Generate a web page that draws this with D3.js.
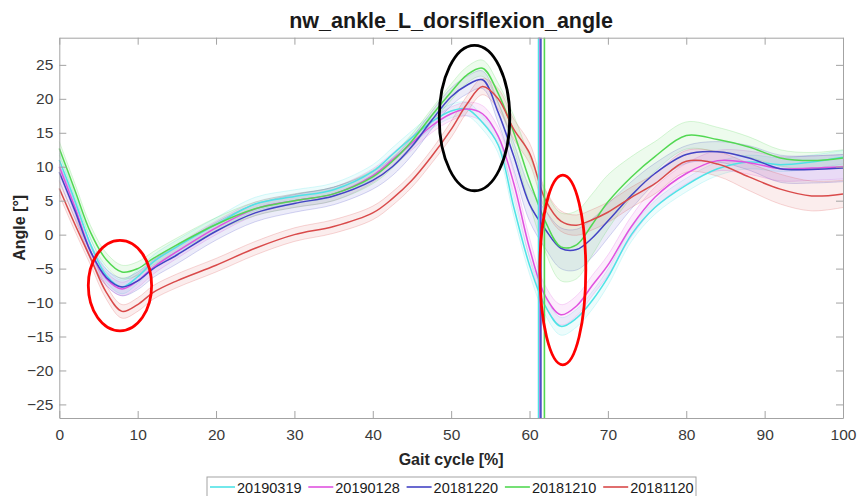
<!DOCTYPE html>
<html><head><meta charset="utf-8">
<script src="https://cdn.jsdelivr.net/npm/d3@7/dist/d3.min.js"></script>
<style>
html,body{margin:0;padding:0;background:#fff;}
svg{display:block;font-family:"Liberation Sans",Arial,Helvetica,sans-serif;}
</style></head>
<body><svg id="c" width="857" height="496"></svg>
<script>
// ---- data ----
const gaitPct = [0,2,4,6,8,10,12,15,20,25,30,35,40,42.5,45,47.5,50,52,54,56,58,60,62,64,66,68,70,73,76,80,84,88,92,96,100];
const seriesNames = ["20190319","20190128","20181220","20181210","20181120"];
const seriesColors = ["#4fe3e6","#e052e0","#4343c4","#52d852","#d94a4a"];
const mean20190319 = [11,5,-1.5,-6,-7.7,-6.2,-4,-1.8,1.5,4.5,5.6,6.6,9.3,11.8,14.3,16.6,18.2,18.5,16.5,13.2,4,-4.5,-10.5,-13.5,-12.3,-9.7,-6.3,0,4,7.3,9.7,10.7,10.3,10.7,11.4];
const mean20190128 = [10,4,-2.5,-6.5,-8,-6.8,-4.8,-2.5,1,3.8,5,6,8.7,11,13.5,16,17.8,18.5,17.8,14.5,7.5,-2,-9,-11.8,-10.5,-7.5,-4.5,1.2,5.5,9,10.9,10.6,9.7,9.8,10];
const mean20181220 = [9.2,3.5,-2.5,-6.3,-7.7,-6.8,-5,-3,0.5,3.2,4.6,5.7,8,10,13,16.8,20.3,22,22.8,18,11.5,4.5,0.8,-2,-2.2,-0.5,2,5.8,9,11.8,12.2,11.3,9.7,9.6,9.8];
const mean20181210 = [12.7,6.5,0.3,-3.7,-5.5,-5,-3.5,-1.5,1.5,3.8,5,6,8.5,10.8,13.8,17.5,21,23.5,24.5,20.8,15,8,2,-1.8,-1.5,1.5,4.8,8.5,11.5,14.6,14,12.9,11.3,10.9,11.3];
const mean20181120 = [6.8,1.5,-3.5,-8.5,-11.3,-10.3,-8.5,-6.8,-4.5,-2,0,1.2,3.2,5.3,8,11.5,15.5,19.2,21.8,20,15.5,12,5.2,2,1.4,2.2,3.3,5.5,7.5,10.8,10.4,8.5,6.7,5.7,6];
const sd20190319 = [1,1,1,1,1,1,1,1,1,1,1,1,1,1,1,1,1,1,1,1.2,1.3,1.3,1.3,1.3,1.3,1.3,1.2,1,1,1,1,1,1,1,1];
const sd20190128 = [1,1,1,1,1,1,1,1,1,1,1,1,1,1,1,1,1,1,1.2,1.3,1.5,1.5,1.5,1.5,1.5,1.5,1.5,1.5,1.5,1.5,1.5,1.7,1.8,1.8,1.8];
const sd20181220 = [1.2,1.2,1.2,1.2,1.3,1.3,1.3,1.3,1.3,1.3,1.3,1.3,1.3,1.3,1.3,1.3,1.3,1.3,1.3,1.5,2,2.5,2.8,3,3,2.8,2.5,2,1.5,1.3,1.5,1.8,2,2,2];
const sd20181210 = [1,1,1,1,1,1,1,1,1,1,1,1,1,1,1,1,1.2,1.2,1.2,1.5,2.5,3.5,4.5,5,5,4.5,4,3,2.2,2,1.8,1.5,1.2,1.2,1.2];
const sd20181120 = [1,1,1,1,1,1,1,1,1,1,1,1,1,1,1,1,1.2,1.2,1.2,1.5,1.5,1.5,1.5,1.5,1.5,1.5,1.5,1.5,1.5,1.6,1.8,2,2.2,2.2,2];
const toeOff = [61.15,61.25,61.45,61.9,61.25];
const xTicks = [0,10,20,30,40,50,60,70,80,90,100];
const yTicks = [-25,-20,-15,-10,-5,0,5,10,15,20,25];
// hand-drawn annotation ellipses, in data units: [cx, cy, rx, ry, color]
const annotations = [[7.74,-7.5,4.04,6.66,"#ff0000"],[52.98,17.16,4.5,10.7,"#000000"],[64.25,-5.2,2.93,13.97,"#ff0000"]];

const means = [mean20190319,mean20190128,mean20181220,mean20181210,mean20181120];
const sds = [sd20190319,sd20190128,sd20181220,sd20181210,sd20181120];

const svg = d3.select("#c");
const x = d3.scaleLinear().domain([0,100]).range([59.3,843]);
const y = d3.scaleLinear().domain([-27,29]).range([418,37.7]);
const axisCol = "#a3a3a3", textCol = "#3a3a3a";

const plot = svg.append("g");
const curve = d3.curveCatmullRom.alpha(0.5);

// bands
seriesNames.forEach((n,i)=>{
  const pts = gaitPct.map((g,j)=>({g, m:means[i][j], s:sds[i][j]}));
  const area = d3.area().x(d=>x(d.g)).y0(d=>y(d.m-d.s)).y1(d=>y(d.m+d.s)).curve(curve);
  plot.append("path").datum(pts).attr("d",area).attr("fill",seriesColors[i]).attr("fill-opacity",0.1);
  [-1,1].forEach(k=>{
    const ln = d3.line().x(d=>x(d.g)).y(d=>y(d.m+k*d.s)).curve(curve);
    plot.append("path").datum(pts).attr("d",ln).attr("fill","none").attr("stroke",seriesColors[i]).attr("stroke-opacity",0.22).attr("stroke-width",1);
  });
});
// mean lines
seriesNames.forEach((n,i)=>{
  const pts = gaitPct.map((g,j)=>({g, m:means[i][j]}));
  const ln = d3.line().x(d=>x(d.g)).y(d=>y(d.m)).curve(curve);
  plot.append("path").datum(pts).attr("d",ln).attr("fill","none").attr("stroke",seriesColors[i]).attr("stroke-width",1.5);
});
// toe-off vertical lines
const vOrder = [4,1,0,3,2];
vOrder.forEach(i=>{
  plot.append("line").attr("x1",x(toeOff[i])).attr("x2",x(toeOff[i])).attr("y1",y(29)).attr("y2",y(-27))
    .attr("stroke",seriesColors[i]).attr("stroke-width",1.6);
});

// axes
function styleAxis(g){
  g.selectAll("path.domain").attr("stroke",axisCol);
  g.selectAll(".tick line").attr("stroke",axisCol);
  g.selectAll(".tick text").attr("fill",textCol).attr("font-size","15.5px").attr("font-family","Liberation Sans, Arial, sans-serif");
}
svg.append("g").attr("transform",`translate(0,${y(-27)})`)
  .call(d3.axisBottom(x).tickValues(xTicks).tickSize(-7).tickSizeOuter(0).tickPadding(11)).call(styleAxis);
svg.append("g").attr("transform",`translate(0,${y(29)})`)
  .call(d3.axisTop(x).tickValues(xTicks).tickSize(-7).tickSizeOuter(0).tickFormat("")).call(styleAxis);
svg.append("g").attr("transform",`translate(${x(0)},0)`)
  .call(d3.axisLeft(y).tickValues(yTicks).tickSize(-7).tickSizeOuter(0).tickPadding(6)).call(styleAxis);
svg.append("g").attr("transform",`translate(${x(100)},0)`)
  .call(d3.axisRight(y).tickValues(yTicks).tickSize(-7).tickSizeOuter(0).tickFormat("")).call(styleAxis);

// annotations
annotations.forEach(a=>{
  svg.append("ellipse").attr("cx",x(a[0])).attr("cy",y(a[1]))
    .attr("rx",x(a[0]+a[2])-x(a[0])).attr("ry",y(a[1])-y(a[1]+a[3]))
    .attr("fill","none").attr("stroke",a[4]).attr("stroke-width",2.8);
});

// title & labels
svg.append("text").attr("x",(x(0)+x(100))/2).attr("y",28).attr("text-anchor","middle")
  .attr("font-weight","bold").attr("font-size","21.5px").attr("fill","#1a1a1a").text("nw_ankle_L_dorsiflexion_angle");
svg.append("text").attr("x",(x(0)+x(100))/2).attr("y",465).attr("text-anchor","middle")
  .attr("font-weight","bold").attr("font-size","16px").attr("fill","#262626").text("Gait cycle [%]");
svg.append("text").attr("transform",`translate(25,${y(1)}) rotate(-90)`).attr("text-anchor","middle")
  .attr("font-weight","bold").attr("font-size","16px").attr("fill","#262626").text("Angle [°]");

// legend
const leg = svg.append("g");
leg.append("rect").attr("x",207).attr("y",477).attr("width",489).attr("height",30).attr("fill","#fff").attr("stroke","#a3a3a3");
seriesNames.forEach((n,i)=>{
  const lx = 210 + i*98.3;
  leg.append("line").attr("x1",lx).attr("x2",lx+25).attr("y1",487).attr("y2",487).attr("stroke",seriesColors[i]).attr("stroke-width",1.6);
  leg.append("text").attr("x",lx+27).attr("y",493).attr("font-size","14.5px").attr("fill","#1a1a1a").text(n);
});
</script></body></html>
